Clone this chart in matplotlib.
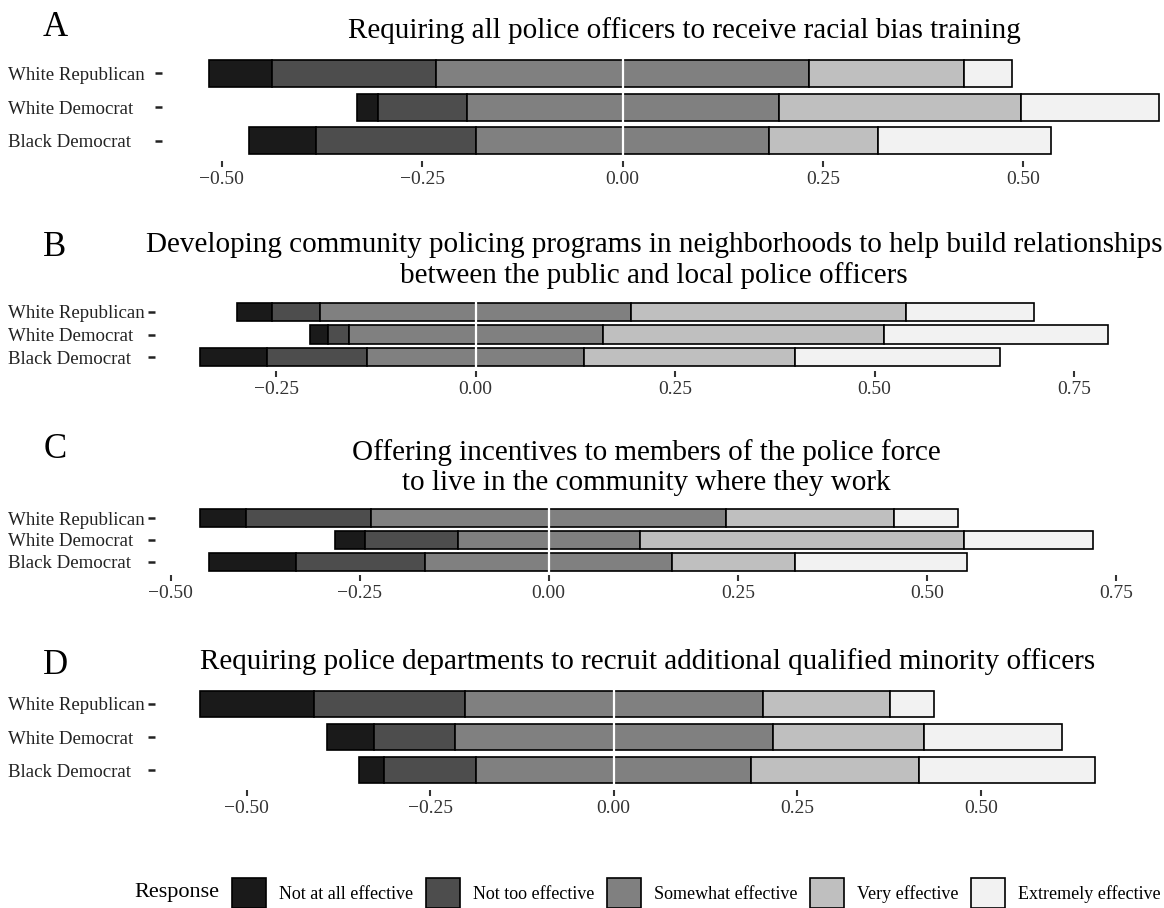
import numpy as np
import matplotlib
matplotlib.use('Agg')
import matplotlib.pyplot as plt
from matplotlib.patches import Patch
from matplotlib.ticker import MultipleLocator, FuncFormatter

plt.rcParams['font.family'] = ['Liberation Serif', 'DejaVu Serif']

# --- data (shares of respondents) ---
groups = ["White Republican", "White Democrat", "Black Democrat"]
responses = ["Not at all effective", "Not too effective", "Somewhat effective",
             "Very effective", "Extremely effective"]
fills = ["#1a1a1a", "#4d4d4d", "#808080", "#bfbfbf", "#f2f2f2"]

tags = ["A", "B", "C", "D"]
titles = [
    "Requiring all police officers to receive racial bias training",
    "Developing community policing programs in neighborhoods to help build relationships\n"
    "between the public and local police officers",
    "Offering incentives to members of the police force\nto live in the community where they work",
    "Requiring police departments to recruit additional qualified minority officers",
]

# rows follow `groups`, columns follow `responses`
bias_training = [[0.078, 0.205, 0.465, 0.193, 0.060],
                 [0.026, 0.111, 0.389, 0.303, 0.171],
                 [0.084, 0.199, 0.366, 0.135, 0.216]]
community_policing = [[0.044, 0.060, 0.390, 0.344, 0.161],
                      [0.023, 0.026, 0.318, 0.353, 0.280],
                      [0.083, 0.126, 0.272, 0.264, 0.257]]
live_incentives = [[0.061, 0.166, 0.469, 0.222, 0.084],
                   [0.039, 0.123, 0.240, 0.429, 0.171],
                   [0.115, 0.171, 0.326, 0.163, 0.227]]
minority_recruit = [[0.156, 0.205, 0.406, 0.174, 0.060],
                    [0.064, 0.110, 0.433, 0.206, 0.188],
                    [0.034, 0.126, 0.374, 0.229, 0.240]]
panels = [bias_training, community_policing, live_incentives, minority_recruit]

# --- layout, in pixels: left, right, top, bottom of each panel ---
DPI = 100
W, H = 1164, 908
boxes = [(162, 1206, 53, 161), (155, 1153, 298, 371), (155, 1138, 505, 575), (155, 1140, 684, 790)]
tag_y = [28, 247, 450, 665]
TICKLEN = 5

fig = plt.figure(figsize=(W / DPI, H / DPI), dpi=DPI)

def fmt(v, pos):
    return f"{v:.2f}".replace("-", "\u2212")

for vals, title, tag, (l, r, t, b), ty in zip(panels, titles, tags, boxes, tag_y):
    ax = fig.add_axes([l / W, 1 - b / H, (r - l) / W, (b - t) / H])
    vals = np.array(vals)
    ypos = np.arange(len(groups))[::-1]
    start = -(vals[:, 0] + vals[:, 1] + vals[:, 2] / 2)
    left = start.copy()
    for j in range(len(responses)):
        ax.barh(ypos, vals[:, j], left=left, height=0.8, color=fills[j],
                edgecolor="black", linewidth=1.2, zorder=2)
        left = left + vals[:, j]
    ax.axvline(0, color="white", lw=1.6, zorder=3)

    lo, hi = start.min(), left.max()
    pad = 0.05 * (hi - lo)
    ax.set_xlim(lo - pad, hi + pad)
    ax.set_ylim(-0.6, len(groups) - 0.4)
    for s in ax.spines.values():
        s.set_visible(False)

    ax.xaxis.set_major_locator(MultipleLocator(0.25))
    ax.xaxis.set_major_formatter(FuncFormatter(fmt))
    ax.set_yticks(ypos, groups)
    ax.tick_params(axis="x", length=4, width=1.5, color="#333333", labelsize=14,
                   labelcolor="#333333", pad=3)
    ax.tick_params(axis="y", length=TICKLEN, width=1.8, color="#222222", labelsize=13.6,
                   labelcolor="#222222", pad=(l - TICKLEN - 10) * 72 / DPI)
    for lab in ax.get_yticklabels():
        lab.set_ha("left")

    ax.set_title(title, fontsize=21, pad=11, linespacing=1.17)
    fig.text(55 / W, 1 - ty / H, tag, fontsize=25, ha="center", va="center")

handles = [Patch(facecolor=c, edgecolor="black", linewidth=1.2, label=lab)
           for c, lab in zip(fills, responses)]
fig.legend(handles=handles, loc="center left", bbox_to_anchor=(232 / W, 1 - 893 / H),
           ncol=5, frameon=False, fontsize=13, handlelength=1.9, handleheight=2.1,
           handletextpad=0.7, columnspacing=0.7, borderpad=0, borderaxespad=0)
fig.text(219 / W, 1 - 893 / H, "Response", fontsize=16, ha="right", va="center")

fig.savefig("out.png", dpi=DPI)
